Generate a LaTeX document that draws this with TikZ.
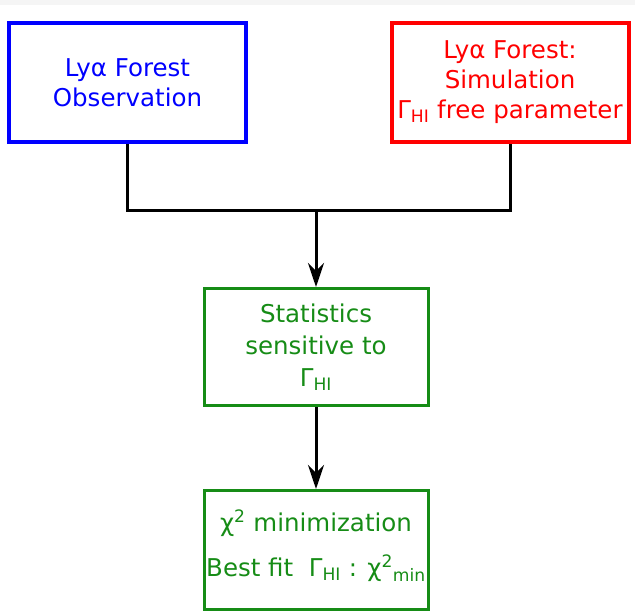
\documentclass[tikz,border=0pt]{standalone}
\usepackage{fontspec}
\setmainfont{DejaVu Sans}
\usetikzlibrary{arrows.meta}
\definecolor{boxgreen}{RGB}{22,140,22}
\definecolor{topgray}{RGB}{245,245,245}

\begin{document}
\begin{tikzpicture}[x=1pt, y=-1pt,
    box/.style={draw, line width=4pt, align=center, font=\fontsize{24.5}{30}\selectfont,
        minimum width=237pt, minimum height=119pt, inner sep=0pt},
    stepbox/.style={draw=boxgreen, text=boxgreen, line width=3pt, align=center,
        font=\fontsize{24.5}{32}\selectfont, minimum width=224pt, minimum height=117pt, inner sep=0pt},
    link/.style={line width=3pt},
    flow/.style={line width=3pt, -{Stealth[length=24pt, width=16pt, inset=8pt]}}]
    \useasboundingbox (0,0) rectangle (635,615);
    \fill[topgray] (0,0) rectangle (635,5);

    \node[box, blue] (obs) at (127.5, 82.5) {Lyα Forest\\Observation};
    \node[box, red] (sim) at (510, 82.5) {Lyα Forest:\\Simulation\\Γ\textsubscript{HI} free parameter};
    \node[stepbox] (stats) at (316, 347) {Statistics\\sensitive to\\Γ\textsubscript{HI}};
    \node[stepbox, font=\fontsize{24.5}{45}\selectfont, text depth=13pt, minimum height=119pt] (chi) at (316, 550)
        {χ\textsuperscript{2} minimization\\Best fit\ \ Γ\textsubscript{HI} : χ\textsuperscript{2}\textsubscript{min}};

    \coordinate (merge) at (316, 211);
    \draw[link] (obs.south) |- (merge) -| (sim.south);
    \draw[flow] (merge) -- (stats.north);
    \draw[flow] (stats) -- (chi);
\end{tikzpicture}
\end{document}
